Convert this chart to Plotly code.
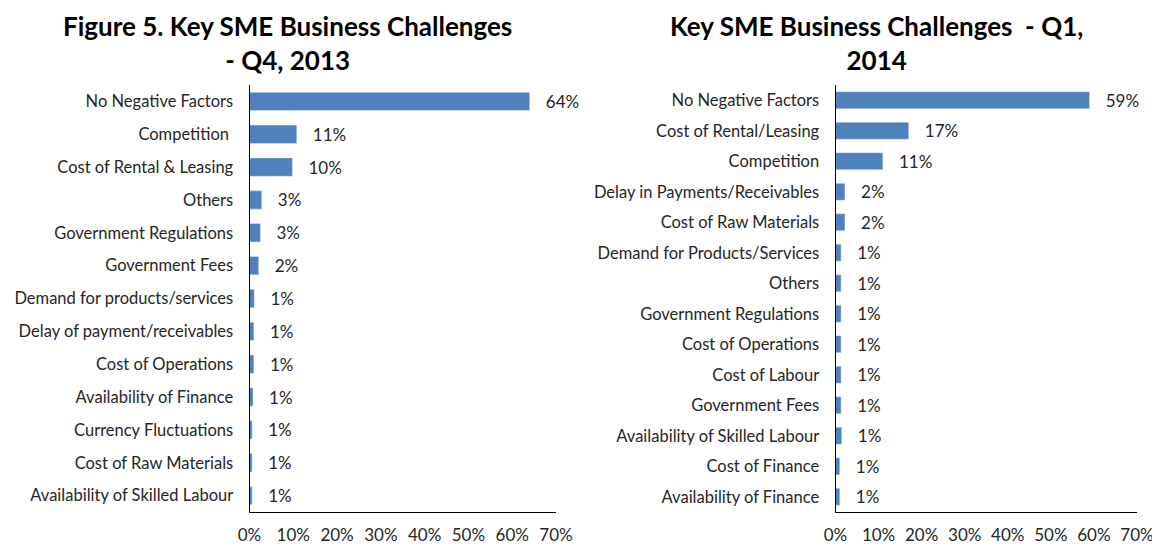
import plotly.graph_objects as go

# Left chart: Q4 2013
cats_q4 = ["No Negative Factors", "Competition ", "Cost of Rental & Leasing", "Others",
           "Government Regulations", "Government Fees", "Demand for products/services",
           "Delay of payment/receivables", "Cost of Operations", "Availability of Finance",
           "Currency Fluctuations", "Cost of Raw Materials", "Availability of Skilled Labour"]
vals_q4 = [0.64, 0.108, 0.098, 0.028, 0.025, 0.021, 0.011, 0.010, 0.010, 0.008, 0.006, 0.006, 0.006]

# Right chart: Q1 2014
cats_q1 = ["No Negative Factors", "Cost of Rental/Leasing", "Competition",
           "Delay in Payments/Receivables", "Cost of Raw Materials", "Demand for Products/Services",
           "Others", "Government Regulations", "Cost of Operations", "Cost of Labour",
           "Government Fees", "Availability of Skilled Labour", "Cost of Finance",
           "Availability of Finance"]
vals_q1 = [0.59, 0.17, 0.11, 0.022, 0.022, 0.013, 0.013, 0.013, 0.013, 0.013, 0.013, 0.0145, 0.010, 0.010]

x_ticks = [0, 0.1, 0.2, 0.3, 0.4, 0.5, 0.6, 0.7]

title_q4 = "Figure 5. Key SME Business Challenges<br>- Q4, 2013"
title_q1 = "Key SME Business Challenges  - Q1,<br>2014"

BAR = "#4F81BD"
TXT = "#262626"
FONT = "Lato"

# page body has an 8px margin; figure sized so it fills the 1160x544 window
OFF = 8
W, H = 1160 - OFF, 544 - OFF


def px(sx):
    return (sx - OFF) / W


def py(sy):
    return 1 - (sy - OFF) / H


fig = go.Figure()
fig.add_trace(go.Bar(y=cats_q4, x=vals_q4, orientation="h", marker_color=BAR,
                     texttemplate="   %{x:.0%}", textposition="outside", constraintext="none",
                     textfont=dict(size=17, color=TXT, family=FONT), cliponaxis=False,
                     xaxis="x", yaxis="y", width=0.56, hoverinfo="skip"))
fig.add_trace(go.Bar(y=cats_q1, x=vals_q1, orientation="h", marker_color=BAR,
                     texttemplate="   %{x:.0%}", textposition="outside", constraintext="none",
                     textfont=dict(size=17, color=TXT, family=FONT), cliponaxis=False,
                     xaxis="x2", yaxis="y2", width=0.56, hoverinfo="skip"))

ydom = [py(512), py(85)]
xcommon = dict(range=[0, 0.7], tickvals=x_ticks, tickformat=".0%", showgrid=False,
               zeroline=False, showline=True, linecolor="black", linewidth=1,
               ticks="outside", ticklen=8, tickcolor="rgba(0,0,0,0)", automargin=False,
               tickfont=dict(size=17, color=TXT, family=FONT))
ycommon = dict(autorange="reversed", showgrid=False, showline=True, linecolor="black",
               linewidth=1, ticks="outside", ticklen=12, tickcolor="rgba(0,0,0,0)",
               automargin=False,
               tickfont=dict(size=16.5, color=TXT, family=FONT), domain=ydom)

fig.update_layout(
    width=W, height=H, margin=dict(l=0, r=0, t=0, b=0),
    paper_bgcolor="white", plot_bgcolor="white", showlegend=False,
    xaxis=dict(domain=[px(249.5), px(556)], anchor="y", **xcommon),
    yaxis=dict(anchor="x", **ycommon),
    xaxis2=dict(domain=[px(835.5), px(1137)], anchor="y2", **xcommon),
    yaxis2=dict(anchor="x2", **ycommon),
    annotations=[
        dict(text="<b>" + title_q4 + "</b>", x=px(287), y=1, xref="paper", yref="paper",
             xanchor="center", yanchor="top", showarrow=False,
             font=dict(size=26, color="black", family=FONT)),
        dict(text="<b>" + title_q1 + "</b>", x=px(876), y=1, xref="paper", yref="paper",
             xanchor="center", yanchor="top", showarrow=False,
             font=dict(size=26, color="black", family=FONT)),
    ],
)

fig.write_html("out.html")
